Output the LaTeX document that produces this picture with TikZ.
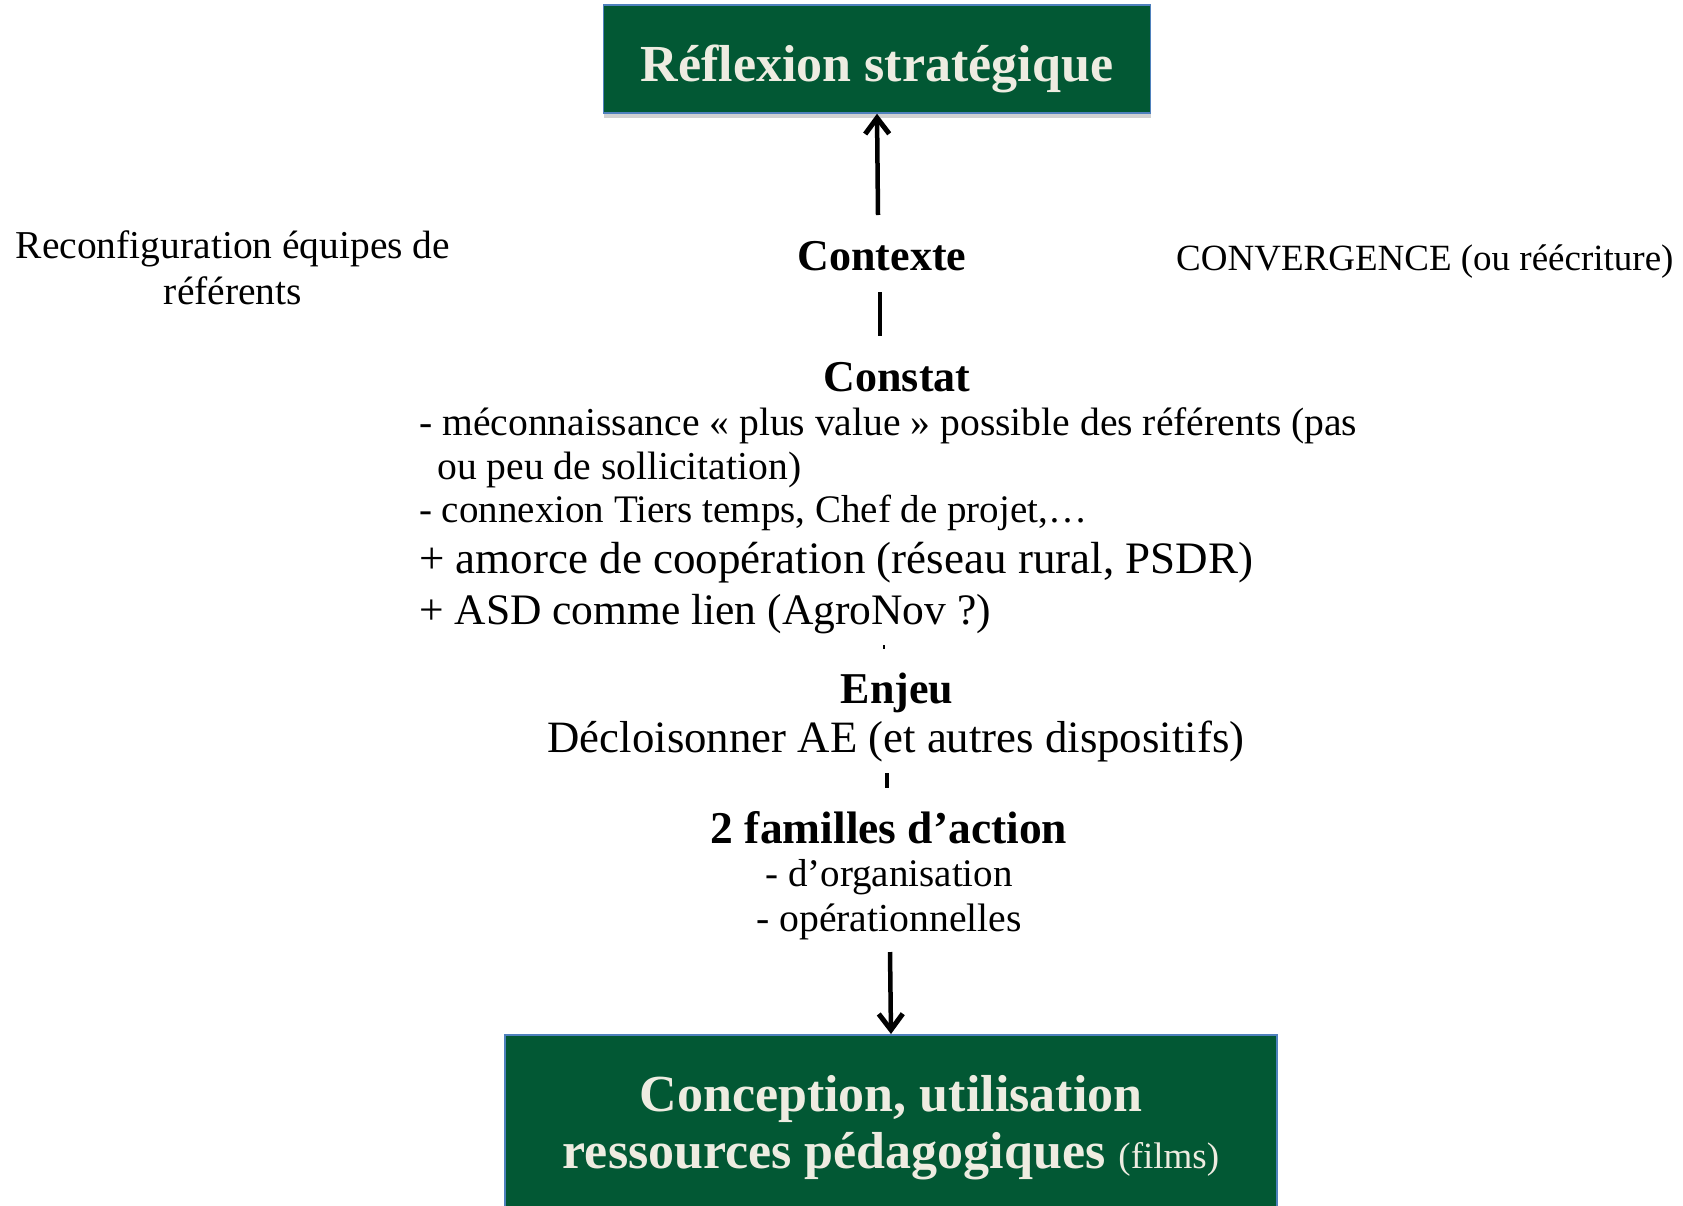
\documentclass[tikz,border=0pt]{standalone}
\usepackage{fontspec}
\setmainfont{Liberation Serif}
\usetikzlibrary{arrows.meta,shadows}
\definecolor{boxgreen}{RGB}{2,88,52}
\definecolor{boxblue}{RGB}{79,129,189}
\definecolor{cream}{RGB}{238,236,225}
\newcommand{\fsz}[2]{\fontsize{#1bp}{#2bp}\selectfont}
\begin{document}
\begin{tikzpicture}[x=1bp,y=-1bp,
  greenbox/.style={draw=boxblue, line width=1.5bp, fill=boxgreen, inner sep=0pt,
    drop shadow={shadow xshift=0bp, shadow yshift=-5bp, opacity=0.3, fill=black!60}},
  boxtext/.style={inner sep=0pt, text=cream, anchor=base, font=\bfseries\fsz{52}{57}},
  txt/.style={inner sep=0pt, text=black},
  head/.style={txt, anchor=base, font=\bfseries\fsz{44}{50}},
  conn/.style={line width=4.5bp, black},
  arr/.style={conn, -{Straight Barb[length=16bp,width=24bp,line width=5bp]}}
]
\useasboundingbox (0,0) rectangle (1683,1205);
\begin{scope}
\clip (0,0) rectangle (1683,1205);

% boxes
\node[greenbox, minimum width=547bp, minimum height=108bp] (top) at (877,59) {};
\node[boxtext] (toptext) at (877,81) {Réflexion stratégique};
\node[greenbox, minimum width=772bp, minimum height=178bp, anchor=north] (bot) at (891,1034) {};
\node[boxtext] (bottext1) at (891,1111) {Conception, utilisation};
\node[boxtext] (bottext2) at (891,1168) {ressources pédagogiques {\mdseries\fsz{37}{57}(films)}};

% side texts
\node[txt, anchor=base, align=center, font=\fsz{39.5}{46}] (reconf) at (233,304)
  {Reconfiguration équipes de\\référents};
\node[txt, anchor=base west, font=\fsz{37}{44}] (conv) at (1176,270)
  {CONVERGENCE (ou réécriture)};

% central column
\node[head] (ctx) at (882,270) {Contexte};
\node[head] (constat) at (897,391) {Constat};
\node[txt, anchor=base west, font=\fsz{39.6}{44}] (c1) at (419,435)
  {- méconnaissance « plus value » possible des référents (pas};
\node[txt, anchor=base west, font=\fsz{39.6}{44}] (c2) at (437,479)
  {ou peu de sollicitation)};
\node[txt, anchor=base west, font=\fsz{39}{44}] (c3) at (419,522)
  {- connexion Tiers temps, Chef de projet,…};
\node[txt, anchor=base west, font=\fsz{45}{50}] (c4) at (419,573)
  {+ amorce de coopération (réseau rural, PSDR)};
\node[txt, anchor=base west, font=\fsz{43.5}{50}] (c5) at (419,624)
  {+ ASD comme lien (AgroNov ?)};

\node[head] (enjeu) at (897,703) {Enjeu};
\node[txt, anchor=base, font=\fsz{44.8}{50}] (decl) at (896,752)
  {Décloisonner AE (et autres dispositifs)};
\node[head, font=\bfseries\fsz{45.5}{50}] (fam) at (889,843) {2 familles d’action};
\node[txt, anchor=base, font=\fsz{39}{44}] (f1) at (889,886) {- d’organisation};
\node[txt, anchor=base, font=\fsz{39.7}{44}] (f2) at (889,931) {- opérationnelles};

% connectors
\coordinate (a1) at (878,215);
\draw[arr] (a1) -- (top.south);
\coordinate (l1a) at (880,292);
\coordinate (l1b) at (880,336);
\draw[conn] (l1a) -- (l1b);
\coordinate (l2a) at (884,645);
\coordinate (l2b) at (884,649);
\draw[line width=2.5bp] (l2a) -- (l2b);
\coordinate (l3a) at (887,773);
\coordinate (l3b) at (887,788);
\draw[conn] (l3a) -- (l3b);
\coordinate (a2) at (890,952);
\draw[arr] (a2) -- (bot.north);
\end{scope}
\end{tikzpicture}
\end{document}
